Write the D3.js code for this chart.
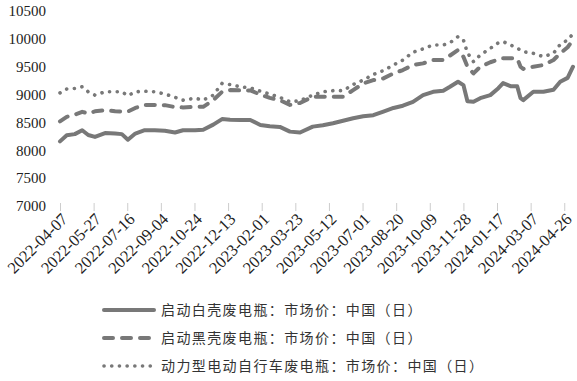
<!DOCTYPE html>
<html>
<head>
<meta charset="utf-8">
<script src="https://cdn.jsdelivr.net/npm/d3@7"></script>
<style>
  body { margin: 0; background: #fff; }
  svg { display: block; }
</style>
</head>
<body>
<div id="chart"></div>
<script>

//////////////////////
//// data
//////////////////////

const dates = [
  "2022-04-07","2022-04-17","2022-04-29","2022-05-10","2022-05-19","2022-05-29","2022-06-13","2022-06-28",
  "2022-07-08","2022-07-17","2022-07-28","2022-08-11","2022-08-26","2022-09-10","2022-09-25","2022-10-07",
  "2022-10-25","2022-11-06","2022-11-21","2022-12-04","2022-12-16","2022-12-31","2023-01-15","2023-01-30",
  "2023-02-13","2023-02-28","2023-03-15","2023-03-30","2023-04-18","2023-05-03","2023-05-18","2023-06-02",
  "2023-06-17","2023-07-02","2023-07-17","2023-08-01","2023-08-16","2023-08-30","2023-09-14","2023-09-29",
  "2023-10-14","2023-10-29","2023-11-08","2023-11-20","2023-11-28","2023-12-04","2023-12-13","2023-12-23",
  "2024-01-07","2024-01-19","2024-01-26","2024-02-06","2024-02-16","2024-02-21","2024-02-25","2024-03-11",
  "2024-03-26","2024-04-10","2024-04-20","2024-05-01","2024-05-09"
];

// 启动白壳废电瓶
const whiteShell = [
  8160,8270,8290,8360,8275,8240,8310,8300,8290,8190,8300,8360,8360,8350,8320,8360,
  8360,8370,8460,8560,8550,8545,8545,8455,8430,8420,8335,8320,8425,8450,8485,8530,
  8575,8610,8630,8695,8760,8800,8870,8990,9050,9070,9140,9230,9170,8880,8870,8935,
  8990,9115,9205,9150,9150,8935,8900,9050,9050,9085,9230,9300,9500
];

// 启动黑壳废电瓶
const blackShell = [
  8520,8600,8640,8690,8660,8700,8720,8700,8695,8695,8760,8815,8815,8810,8775,8770,
  8780,8780,8900,9050,9080,9075,9075,9000,8940,8900,8815,8850,8960,8960,8960,8960,
  9080,9200,9260,9290,9380,9440,9530,9560,9620,9620,9700,9800,9680,9500,9380,9500,
  9580,9630,9650,9650,9650,9500,9460,9500,9530,9620,9740,9850,9980
];

// 动力型电动自行车废电瓶
const ebike = [
  9030,9100,9110,9140,9050,8990,9050,9050,9050,8980,9050,9060,9050,9010,8950,8900,
  8935,8900,8990,9200,9180,9140,9120,9060,9010,8950,8870,8890,8990,9050,9070,9070,
  9180,9260,9360,9430,9530,9620,9760,9820,9890,9890,9930,10040,9980,9750,9590,9710,
  9830,9930,9950,9890,9830,9800,9770,9740,9680,9740,9900,9980,10090
];

const tickDates = [
  "2022-04-07","2022-05-27","2022-07-16","2022-09-04","2022-10-24","2022-12-13","2023-02-01","2023-03-23",
  "2023-05-12","2023-07-01","2023-08-20","2023-10-09","2023-11-28","2024-01-17","2024-03-07","2024-04-26"
];
const yTicks = [7000, 7500, 8000, 8500, 9000, 9500, 10000, 10500];

const names = [
  "启动白壳废电瓶：市场价：中国（日）",
  "启动黑壳废电瓶：市场价：中国（日）",
  "动力型电动自行车废电瓶：市场价：中国（日）"
];


//////////////////////
//// setup
//////////////////////

const W = 577, H = 381;
const grey = "#787878";
const pt = d3.timeParse("%Y-%m-%d");

const svg = d3.select("#chart").append("svg")
  .attr("width", W).attr("height", H);

var x = d3.scaleTime()
  .domain([pt(dates[0]), pt(dates[dates.length - 1])])
  .range([60, 573]);

var y = d3.scaleLinear().domain([7000, 10500]).range([206, 11]);


// y labels (no axis line)
svg.append("g")
  .selectAll("text")
  .data(yTicks)
  .enter()
  .append("text")
  .attr("x", 46)
  .attr("y", d => y(d))
  .attr("dy", "0.35em")
  .attr("text-anchor", "end")
  .style("font-family", "'Liberation Serif', 'Times New Roman', serif")
  .style("font-size", "15px")
  .style("fill", "#222")
  .text(d => d);


// x axis: small light ticks + rotated date labels
const xAxis = svg.append("g")
  .attr("transform", "translate(0,203)")
  .call(d3.axisBottom(x)
    .tickValues(tickDates.map(pt))
    .tickFormat(d3.timeFormat("%Y-%m-%d"))
    .tickSize(8)
    .tickPadding(4));

xAxis.select(".domain").remove();
xAxis.selectAll(".tick line").attr("stroke", "#cdcdcd");
xAxis.selectAll(".tick text")
  .attr("text-anchor", "end")
  .attr("dy", "0.35em")
  .attr("transform", "translate(4,13) rotate(-45)")
  .attr("y", 0)
  .attr("x", 0)
  .style("font-family", "'Liberation Serif', 'Times New Roman', serif")
  .style("font-size", "16.5px")
  .style("fill", "#222");


//////////////////////
//// lines
//////////////////////

const series = [
  { vals: whiteShell, dash: null, width: 4, cap: "round" },
  { vals: blackShell, dash: "9 9", width: 4, cap: "round" },
  { vals: ebike, dash: "0.1 7.6", width: 3.6, cap: "round" }
];

const line = d3.line()
  .x(d => x(d[0]))
  .y(d => y(d[1]));

series.slice().reverse().forEach(s => {
  const pts = dates.map((d, i) => [pt(d), s.vals[i]]);
  svg.append("path")
    .datum(pts)
    .attr("d", line)
    .attr("fill", "none")
    .attr("stroke", grey)
    .attr("stroke-width", s.width)
    .attr("stroke-linecap", s.cap)
    .attr("stroke-linejoin", "round")
    .attr("stroke-dasharray", s.dash);
});


//////////////////////
//// legend
//////////////////////

const legY = [310, 338, 366];

const leg = svg.append("g")
  .selectAll("g")
  .data(series)
  .enter()
  .append("g")
  .attr("transform", (d, i) => `translate(0,${legY[i]})`);

leg.append("line")
  .attr("x1", 104).attr("x2", 154)
  .attr("y1", 0).attr("y2", 0)
  .attr("stroke", grey)
  .attr("stroke-width", d => d.width)
  .attr("stroke-linecap", d => d.cap)
  .attr("stroke-dasharray", d => d.dash);

leg.append("text")
  .attr("x", 161)
  .attr("y", 0)
  .attr("dy", "0.36em")
  .style("font-family", "'Noto Sans CJK SC', sans-serif")
  .style("font-size", "14px")
  .style("letter-spacing", "1.4px")
  .style("fill", "#333")
  .text((d, i) => names[i]);

</script>
</body>
</html>
